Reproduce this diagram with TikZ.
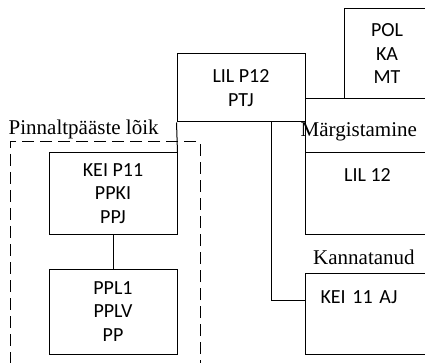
\documentclass[tikz,border=0pt]{standalone}
\usepackage{fontspec}
\setmainfont{Liberation Serif}
\setsansfont{Carlito}
\usepackage{tikz}
\tikzset{
  nd_box/.style={
    rectangle, draw=black, line width=1pt,
    inner sep=0pt, align=center,
    font=\sffamily\fontsize{20}{23.5}\selectfont},
  nd_top/.style={
    nd_box, inner ysep=0pt},
  nd_grp/.style={
    rectangle, draw=black, line width=1pt,
    dash pattern=on 12pt off 6pt, inner sep=0pt},
  nd_cont/.style={
    rectangle, draw=black, line width=1pt, inner sep=0pt},
  lbl/.style={
    anchor=base west, inner sep=0pt,
    font=\rmfamily\fontsize{21}{24}\selectfont},
  ln/.style={line width=1pt},
}

\begin{document}
\begin{tikzpicture}[x=1pt,y=-1pt]
\useasboundingbox (0,0) rectangle (425,363);
\clip (0,0) rectangle (425,363);

%% left group
\node[nd_grp, minimum width=190pt, minimum height=238pt,
      label={[lbl,yshift=7pt,xshift=-1pt]north west:Pinnaltpääste lõik}]
      at (105,261) (G){};
\node[nd_box, minimum width=128pt, minimum height=81pt]
      at (113,193.5) (KP){KEI P11\\PPKI\\PPJ};
\node[nd_box, minimum width=128pt, minimum height=85pt]
      at (113,311.5) (PL){PPL1\\PPLV\\PP};

%% centre
\node[nd_box, minimum width=128pt, minimum height=68pt]
      at (241,88) (LP){LIL P12\\PTJ};

%% right column
\node[nd_box, minimum width=86pt, minimum height=90pt]
      at (387,54) (PO){POL\\KA\\MT};
\node[nd_cont, minimum width=125pt, minimum height=135pt]
      at (367.5,166.5) (MG){};
\node[nd_top, minimum width=125pt, text height=28.5pt, text depth=52.5pt,
      label={[lbl,xshift=-4pt,yshift=16pt]north west:Märgistamine}]
      at (367.5,193.5) (LL){LIL 12};
\node[nd_top, anchor=north west, align=left, text width=110pt,
      inner xsep=15pt, text height=29.5pt, text depth=51.5pt,
      label={[lbl,xshift=8pt,yshift=9pt]north west:Kannatanud}]
      at (305,273) (KA){KEI 11 AJ};

\draw[ln] (LP.south west)--(KP.north east);
\draw[ln] (KP.south)--(PL.north);
\draw[ln] ([xshift=30pt]LP.south) |- ([yshift=-27pt]KA.north west);

\end{tikzpicture}
\end{document}
